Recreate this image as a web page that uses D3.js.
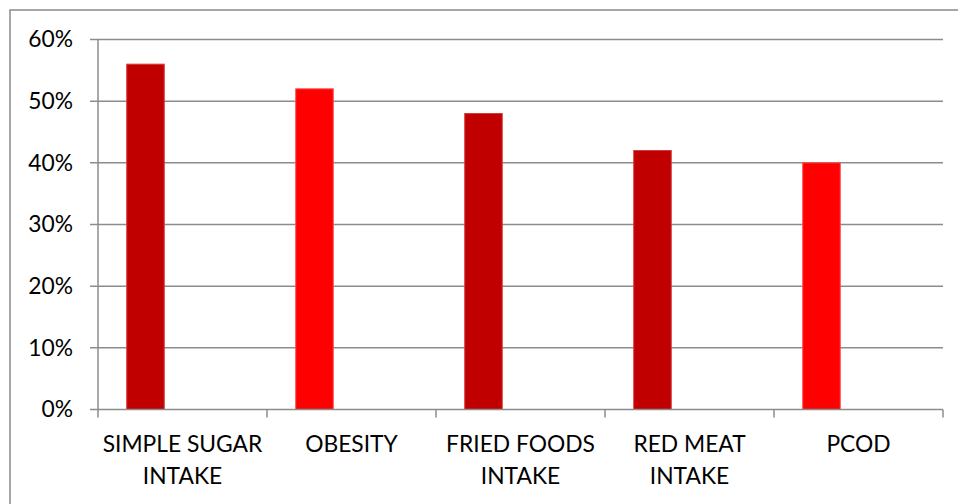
<!DOCTYPE html>
<html><head><meta charset="utf-8">
<script src="https://cdn.jsdelivr.net/npm/d3@7"></script>
<style>body{margin:0;background:#fff}svg{display:block}</style>
</head><body>
<script>
const categories = [["SIMPLE SUGAR","INTAKE"],["OBESITY"],["FRIED FOODS","INTAKE"],["RED MEAT","INTAKE"],["PCOD"]];
const values = [0.56, 0.52, 0.48, 0.42, 0.40];
const barColors = ["#C00000", "#FF0000", "#C00000", "#C00000", "#FF0000"];
const barStrokes = ["#D63A3A", "#FF4A4A", "#D63A3A", "#D63A3A", "#FF4A4A"];
const yTicks = [0, 0.1, 0.2, 0.3, 0.4, 0.5, 0.6];

const W = 958, H = 504;
const mLeft = 98, mRight = 943, mTop = 39.5, mBottom = 409.5;
const font = "Lato, 'Open Sans', sans-serif";
const fs = 22.8;

const svg = d3.select("body").append("svg").attr("width", W).attr("height", H);

svg.append("rect").attr("x", 10).attr("y", 10).attr("width", 1000).attr("height", 600)
  .attr("fill", "none").attr("stroke", "#8a8a8a").attr("stroke-width", 1.5);

const x = d3.scaleBand().domain(d3.range(categories.length)).range([mLeft, mRight]).paddingInner(0).paddingOuter(0);
const y = d3.scaleLinear().domain([0, 0.6]).range([mBottom, mTop]);

// gridlines
svg.append("g").selectAll("line").data(yTicks.slice(1)).join("line")
  .attr("x1", mLeft - 8).attr("x2", mRight)
  .attr("y1", d => y(d)).attr("y2", d => y(d))
  .attr("stroke", "#8c8c8c").attr("stroke-width", 1.5);

// bars
const bw = x.bandwidth();
svg.append("g").selectAll("rect").data(values).join("rect")
  .attr("x", (d, i) => x(i) + bw * 0.17)
  .attr("width", bw * 0.222)
  .attr("y", d => y(d))
  .attr("height", d => y(0) - y(d))
  .attr("fill", (d, i) => barColors[i])
  .attr("stroke", (d, i) => barStrokes[i]).attr("stroke-width", 1);

// y axis line
svg.append("line").attr("x1", mLeft).attr("x2", mLeft).attr("y1", mTop).attr("y2", mBottom + 8)
  .attr("stroke", "#8c8c8c").attr("stroke-width", 1.5);
// x axis line
svg.append("line").attr("x1", mLeft - 8).attr("x2", mRight).attr("y1", mBottom).attr("y2", mBottom)
  .attr("stroke", "#8c8c8c").attr("stroke-width", 1.5);
// category ticks
svg.append("g").selectAll("line").data(d3.range(1, categories.length + 1)).join("line")
  .attr("x1", i => mLeft + i * bw).attr("x2", i => mLeft + i * bw)
  .attr("y1", mBottom).attr("y2", mBottom + 8)
  .attr("stroke", "#8c8c8c").attr("stroke-width", 1.5);

// y labels
svg.append("g").selectAll("text").data(yTicks).join("text")
  .attr("x", 73).attr("y", d => y(d)).attr("dy", "0.35em")
  .attr("text-anchor", "end").attr("font-family", font).attr("font-size", fs).attr("fill", "#000")
  .text(d => d3.format(".0%")(d));

// x labels
const xl = svg.append("g").selectAll("text").data(categories).join("text")
  .attr("x", (d, i) => x(i) + bw / 2)
  .attr("text-anchor", "middle").attr("font-family", font).attr("font-size", fs).attr("fill", "#000");
xl.selectAll("tspan").data(d => d).join("tspan")
  .attr("x", function () { return this.parentNode.getAttribute("x"); })
  .attr("y", (d, j) => 451.5 + j * 32.6)
  .text(d => d);
</script>
</body></html>
